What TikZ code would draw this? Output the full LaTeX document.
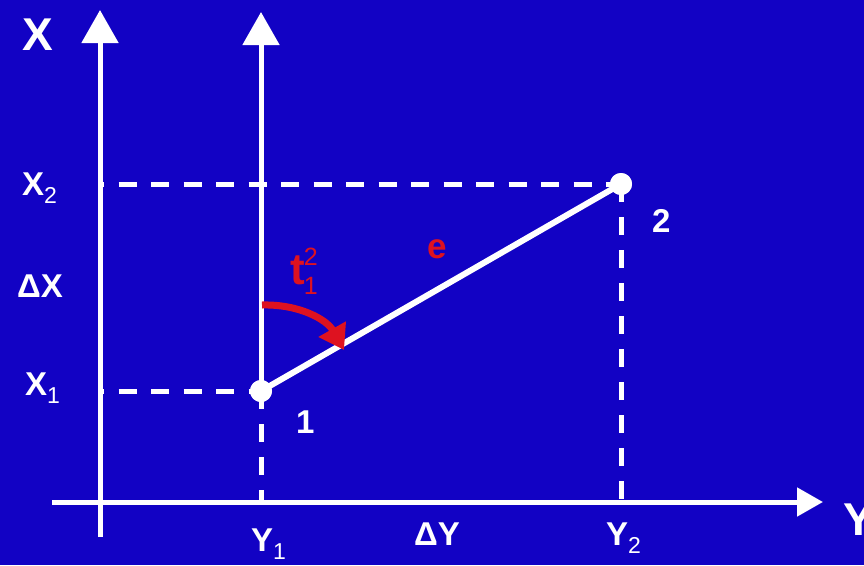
\documentclass[tikz,border=0pt]{standalone}
\usepackage{fontspec}
\setmainfont{Liberation Sans}
\usetikzlibrary{arrows.meta}
\definecolor{bgblue}{RGB}{18,2,196}
\definecolor{redc}{RGB}{222,18,32}
\newcommand\lsub[1]{\raisebox{-8pt}{\fontsize{23}{23}\selectfont\mdseries #1}}
\begin{document}
\begin{tikzpicture}[x=1pt,y=-1pt,
  vaxis/.style={draw=white,line width=5pt,-{Triangle[width=36pt,length=33pt]}},
  haxis/.style={draw=white,line width=5pt,-{Triangle[width=28pt,length=26pt]}},
  dashh/.style={draw=white,line width=5pt,dash pattern=on 18pt off 14.5pt,dash phase=14pt},
  dashv/.style={draw=white,line width=5pt,dash pattern=on 18pt off 15pt},
  seg/.style={draw=white,line width=6pt},
  dot/.style={circle,fill=white,minimum size=22pt,inner sep=0pt},
  lbl/.style={text=white,font=\fontsize{33}{33}\selectfont\bfseries,inner sep=0pt,anchor=base west},
  big/.style={text=white,font=\fontsize{46}{46}\selectfont\bfseries,inner sep=0pt,anchor=base west},
  rlbl/.style={text=redc,font=\fontsize{35}{35}\selectfont\bfseries,inner sep=0pt,anchor=base west},
  tlbl/.style={text=redc,font=\fontsize{44}{44}\selectfont\bfseries,inner sep=0pt,anchor=base west},
  turn/.style={draw=redc,line width=7pt,-{Triangle[width=30pt,length=24pt]}}
]
\fill[bgblue] (0,0) rectangle (864,565);
\useasboundingbox (0,0) rectangle (864,565);

% axes
\coordinate (xb) at (100,537);
\coordinate (xt) at (100,10);
\coordinate (yl) at (52,502);
\coordinate (yr) at (823,502);
\coordinate (ut) at (261,12);
\draw[vaxis] (xb) -- (xt);
\draw[haxis] (yl) -- (yr);

% points
\node[dot] (p1) at (261,391) {};
\node[dot] (p2) at (621,184) {};
\draw[vaxis] (p1.center) -- (ut);

% dashed projections
\coordinate (x2a) at (100,184);
\coordinate (x1a) at (100,391);
\coordinate (y1a) at (261,502);
\coordinate (y2a) at (621,502);
\draw[dashh] (x2a) -- (p2.center);
\draw[dashh] (x1a) -- (p1.center);
\draw[dashv] (p1.center) -- (y1a);
\draw[dashv] (p2.center) -- (y2a);

% element
\draw[seg] (p1.center) -- (p2.center);
\node[dot] at (p1.center) {};
\node[dot] at (p2.center) {};

% red rotation arrow
\coordinate (ra) at (262,305);
\coordinate (rb) at (344,350);
\draw[turn] (ra) .. controls (300,304) and (327,320) .. (rb);

% labels
\node[big] (lx) at (22,50) {X};
\node[big] (ly) at (843,535) {Y};
\node[lbl] (lx2) at (22,195) {X\lsub{2}};
\node[lbl] (ldx) at (17,297) {ΔX};
\node[lbl] (lx1) at (25,395) {X\lsub{1}};
\node[lbl] (ly1) at (251,551) {Y\lsub{1}};
\node[lbl] (ldy) at (414,545) {ΔY};
\node[lbl] (ly2) at (606,545) {Y\lsub{2}};
\node[lbl] (n1) at (296,433) {1};
\node[lbl] (n2) at (652,232) {2};
\node[rlbl] (le) at (427,258) {e};
\node[tlbl] (lt) at (290,284)
  {t\kern-1pt\rlap{\raisebox{19pt}{\fontsize{25}{25}\selectfont\mdseries 2}}\raisebox{-10pt}{\fontsize{25}{25}\selectfont\mdseries 1}};
\end{tikzpicture}
\end{document}
